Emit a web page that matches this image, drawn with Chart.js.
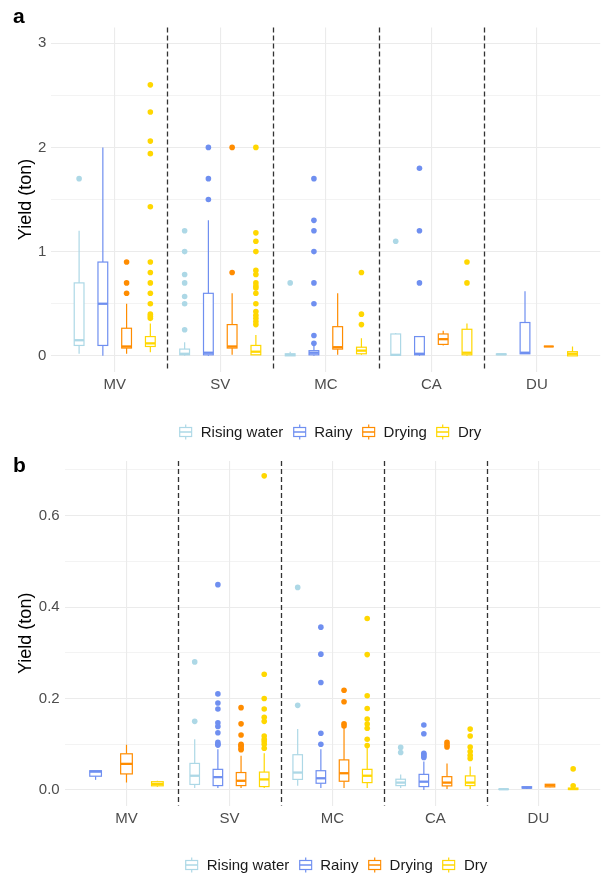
<!DOCTYPE html>
<html>
<head>
<meta charset="utf-8">
<script src="https://cdn.jsdelivr.net/npm/chart.js@4.4.1/dist/chart.umd.min.js"></script>
<style>
  body { margin:0; background:#fff; font-family:"Liberation Sans", Arial, sans-serif; }
  #wrap { position:relative; width:603px; height:880px; }
  .panel { position:absolute; left:0; width:603px; height:440px; }
  .tag { position:absolute; left:13px; font-size:21px; line-height:21px; font-weight:700; color:#000; }
  .legend { position:absolute; transform:translateX(-50%); display:flex; align-items:center; white-space:nowrap;
            font-size:15px; line-height:18px; color:#1a1a1a; }
  .legend .item { display:flex; align-items:center; margin-right:9px; }
  .legend .item:last-child { margin-right:0; }
  .legend svg { margin-right:8px; }
</style>
</head>
<body>
<div id="wrap">
  <div class="panel" style="top:0"><canvas id="chartA" width="603" height="440"></canvas></div>
  <div class="panel" style="top:440px"><canvas id="chartB" width="603" height="440"></canvas></div>
  <div class="tag" style="top:5px">a</div>
  <div class="tag" style="top:454px">b</div>
  <div class="legend" id="legA" style="left:330px;top:423px"></div>
  <div class="legend" id="legB" style="left:336px;top:856px"></div>
</div>
<script>
const categories = ['MV','SV','MC','CA','DU'];
const seasons = ['Rising water','Rainy','Drying','Dry'];
const colors = ['#add8e6','#6f8ff0','#ff8c00','#ffd700'];

// panel a: box stats per category [min, q1, median, q3, max]
const aStatsRising = [[0.02,0.1,0.15,0.7,1.2],[0,0.01,0.02,0.065,0.13],[0,0,0.01,0.02,0.04],[0,0.005,0.01,0.21,0.22],[0.01,0.012,0.015,0.018,0.02]];
const aStatsRainy  = [[0,0.1,0.5,0.9,2.0],[0,0.01,0.03,0.6,1.3],[0,0.01,0.03,0.05,0.1],[0,0.01,0.02,0.185,0.19],[0.02,0.02,0.03,0.32,0.62]];
const aStatsDrying = [[0.02,0.075,0.09,0.265,0.5],[0.01,0.075,0.09,0.3,0.6],[0.01,0.065,0.083,0.28,0.6],[0.1,0.11,0.16,0.21,0.24],[0.09,0.09,0.09,0.09,0.09]];
const aStatsDry    = [[0.035,0.09,0.12,0.185,0.31],[0.01,0.01,0.04,0.1,0.2],[0.01,0.02,0.05,0.083,0.17],[0,0.01,0.03,0.255,0.31],[0,0,0.02,0.04,0.09]];
// panel a: outliers per category
const aOutRising = [[1.7],[1.2,1.0,0.78,0.7,0.57,0.5,0.25],[0.7],[1.1],[]];
const aOutRainy  = [[],[2.0,1.7,1.5],[1.7,1.3,1.2,1.0,0.7,0.5,0.195,0.12],[1.8,1.2,0.7],[]];
const aOutDrying = [[0.9,0.7,0.6],[2.0,0.8],[],[],[]];
const aOutDry    = [[2.6,2.34,2.06,1.94,1.43,0.9,0.8,0.7,0.6,0.5,0.4,0.38,0.36],
                    [2.0,1.18,1.1,1.0,0.82,0.78,0.7,0.67,0.65,0.6,0.5,0.425,0.39,0.36,0.33,0.3],
                    [0.8,0.4,0.3],[0.9,0.7],[]];

// panel b
const bStatsRising = [null,[0.004,0.012,0.031,0.058,0.111],[0.009,0.023,0.038,0.077,0.133],[0.004,0.0095,0.016,0.0234,0.034],[0,0.001,0.0015,0.002,0.003]];
const bStatsRainy  = [[0.022,0.03,0.04,0.042,0.042],[0.004,0.0095,0.028,0.045,0.089],[0.004,0.0146,0.0255,0.042,0.089],[0,0.0073,0.018,0.034,0.062],[0.002,0.004,0.005,0.007,0.008]];
const bStatsDrying = [[0.016,0.035,0.057,0.079,0.099],[0.004,0.0095,0.02,0.038,0.0745],[0.004,0.019,0.0365,0.0657,0.137],[0.002,0.0088,0.016,0.029,0.058],[0.006,0.0066,0.01,0.0124,0.013]];
const bStatsDry    = [[0.007,0.009,0.013,0.018,0.02],[0.004,0.0073,0.023,0.039,0.08],[0.004,0.016,0.031,0.045,0.091],[0.002,0.0095,0.016,0.0307,0.051],[0,0.001,0.002,0.004,0.006]];
const bOutRising = [[],[0.28,0.15],[0.443,0.185],[0.093,0.082],[]];
const bOutRainy  = [[],[0.449,0.21,0.19,0.177,0.147,0.139,0.125,0.104,0.1,0.098],[0.356,0.297,0.235,0.124,0.1],[0.142,0.123,0.08,0.077,0.074,0.071],[]];
const bOutDrying = [[],[0.18,0.1445,0.12,0.1,0.097,0.095,0.09,0.088],[0.218,0.193,0.1445,0.14],[0.104,0.0985,0.094],[]];
const bOutDry    = [[],[0.687,0.253,0.2,0.177,0.159,0.15,0.118,0.111,0.106,0.1,0.091],[0.375,0.296,0.206,0.178,0.155,0.144,0.135,0.111,0.097],[0.133,0.118,0.094,0.084,0.076,0.069],[0.046,0.009]];

const FONT = '"Liberation Sans", Arial, sans-serif';

// ggplot-like dodge: slots are shared only by the groups present in a category
function dodge(stats, c, s) {
  const present = stats.map((ser,i)=>ser[c]?i:-1).filter(i=>i>=0);
  const n = present.length, k = present.indexOf(s);
  return { off:(k-(n-1)/2)*0.9/n, w:(n<4 ? 0.34 : 0.37)/n };
}

function boxPlugin(stats) {
  return {
    id:'boxes',
    beforeDatasetsDraw(chart) {
      const {ctx, chartArea:a, scales:{x,y}} = chart;
      ctx.save();
      // dashed separators between sites
      ctx.setLineDash([5,3]); ctx.strokeStyle='#333'; ctx.lineWidth=1.3;
      for (let i=1;i<categories.length;i++) {
        const px = Math.round(x.getPixelForValue(i+0.5))+0.5;
        ctx.beginPath(); ctx.moveTo(px,a.top); ctx.lineTo(px,a.bottom); ctx.stroke();
      }
      ctx.setLineDash([]);
      stats.forEach((ser,s)=>ser.forEach((st,c)=>{
        if (!st) return;
        const d = dodge(stats,c,s);
        const cx = x.getPixelForValue(c+1+d.off);
        const hw = (x.getPixelForValue(1+d.w)-x.getPixelForValue(1))/2;
        const [mn,q1,md,q3,mx] = st.map(v=>y.getPixelForValue(v));
        ctx.strokeStyle = colors[s]; ctx.lineWidth = 1.2;
        ctx.beginPath();
        ctx.moveTo(cx,q3); ctx.lineTo(cx,mx);
        ctx.moveTo(cx,q1); ctx.lineTo(cx,mn);
        ctx.stroke();
        ctx.fillStyle = '#fff';
        ctx.fillRect(cx-hw,q3,hw*2,q1-q3);
        ctx.strokeRect(cx-hw,q3,hw*2,q1-q3);
        ctx.lineWidth = 2.3;
        ctx.beginPath(); ctx.moveTo(cx-hw,md); ctx.lineTo(cx+hw,md); ctx.stroke();
      }));
      ctx.restore();
    }
  };
}

function outlierSets(stats, outs) {
  return outs.map((ser,s)=>({
    label: seasons[s],
    data: ser.flatMap((vals,c)=>{
      const d = dodge(stats,c,s);
      return vals.map(v=>({ x:c+1+d.off, y:v }));
    }),
    backgroundColor: colors[s], borderWidth:0, pointRadius:2.8, pointHoverRadius:2.8
  }));
}

function makeChart(id, stats, outs, cfg) {
  new Chart(document.getElementById(id), {
    type:'scatter',
    data:{ datasets: outlierSets(stats, outs) },
    options:{
      responsive:false, animation:false,
      layout:{ padding:{ top:cfg.top, right:1, left:0, bottom:0 } },
      plugins:{ legend:{ display:false }, tooltip:{ enabled:false } },
      scales:{
        x:{
          type:'linear', min:0.4, max:5.6,
          afterBuildTicks: sc => { sc.ticks = categories.map((_,i)=>({ value:i+1 })); },
          afterFit: sc => { sc.height = cfg.xh; },
          ticks:{ callback: v => categories[v-1], color:'#4d4d4d', font:{ family:FONT, size:15 }, padding:4, maxRotation:0, autoSkip:false },
          grid:{ color:'#ebebeb', lineWidth:1.1, drawTicks:false },
          border:{ display:false }
        },
        y:{
          min:cfg.min, max:cfg.max,
          afterBuildTicks: sc => { sc.ticks = cfg.ticks.map(v=>({ value:v })); },
          afterFit: sc => { sc.width = cfg.yw; },
          ticks:{ callback: cfg.label, color:'#4d4d4d', font:{ family:FONT, size:15 }, padding:5, autoSkip:false },
          grid:{ color:'#ebebeb', lineWidth: c => (c.tick && cfg.label(c.tick.value)!=='') ? 1.1 : 0.6, drawTicks:false },
          border:{ display:false },
          title:{ display:true, text:'Yield (ton)', color:'#000', font:{ family:FONT, size:18 }, padding:{ top:15, bottom:0 } }
        }
      }
    },
    plugins:[ boxPlugin(stats) ]
  });
}

const aStats = [aStatsRising, aStatsRainy, aStatsDrying, aStatsDry];
const bStats = [bStatsRising, bStatsRainy, bStatsDrying, bStatsDry];

makeChart('chartA', aStats, [aOutRising, aOutRainy, aOutDrying, aOutDry], {
  top:27.5, xh:68.5, yw:51.4, min:-0.15, max:3.15,
  ticks:[0,0.5,1,1.5,2,2.5,3],
  label: v => Number.isInteger(v) ? String(v) : ''
});
makeChart('chartB', bStats, [bOutRising, bOutRainy, bOutDrying, bOutDry], {
  top:21, xh:74.4, yw:64.7, min:-0.0343, max:0.7195,
  ticks:[0,0.1,0.2,0.3,0.4,0.5,0.6,0.7],
  label: v => { const k = Math.round(v*10); return (k%2===0 && k<7) ? v.toFixed(1) : ''; }
});

// legends with small box glyphs
function legendHtml() {
  return seasons.map((s,i)=>`
    <div class="item">
      <svg width="14" height="16" viewBox="0 0 14 16">
        <line x1="7" y1="0.5" x2="7" y2="15.5" stroke="${colors[i]}" stroke-width="1.2"/>
        <rect x="1" y="3.5" width="12" height="9" fill="#fff" stroke="${colors[i]}" stroke-width="1.2"/>
        <line x1="1" y1="8" x2="13" y2="8" stroke="${colors[i]}" stroke-width="1.4"/>
      </svg>${s}
    </div>`).join('');
}
document.getElementById('legA').innerHTML = legendHtml();
document.getElementById('legB').innerHTML = legendHtml();
</script>
</body>
</html>
